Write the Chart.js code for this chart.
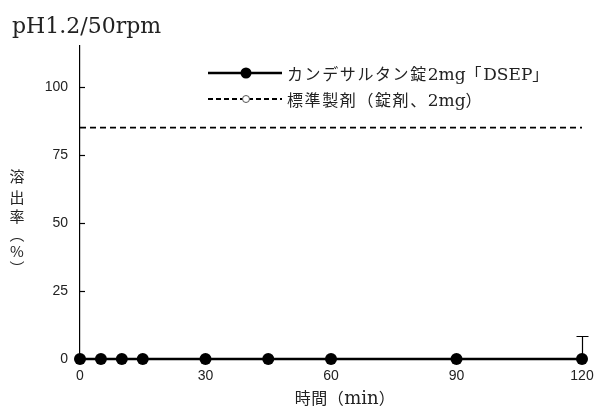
<!DOCTYPE html>
<html><head><meta charset="utf-8">
<script src="https://cdn.jsdelivr.net/npm/chart.js@4"></script>
<style>html,body{margin:0;padding:0;background:#fff}#wrap{width:598px;height:408px;position:relative}</style>
</head><body><div id="wrap"><canvas id="c" width="598" height="408"></canvas></div>
<script>
const timeMin = [0, 5, 10, 15, 30, 45, 60, 90, 120];
const testValues = [0, 0, 0, 0, 0, 0, 0, 0, 0];
const testSD = [0, 0, 0, 0, 0, 0, 0, 0, 8.5];
const refTimes = [0, 120];
const refValues = [85, 85];
const xTicks = [0, 30, 60, 90, 120];
const yTicks = [0, 25, 50, 75, 100];
const chartTitle = 'pH1.2/50rpm';
const seriesNames = ['カンデサルタン錠2mg「DSEP」', '標準製剤（錠剤、2mg）'];
const xTitle = '時間（min）';
const yTitleChars = ['溶', '出', '率', '︵', '%', '︶'];

const tickFont = {family: '"Liberation Sans", Arial, sans-serif', size: 14};
const CJK = '"Noto Sans CJK JP", sans-serif';
const LAT = '"DejaVu Serif", "Liberation Serif", serif';

function isCJK(ch) { return ch.codePointAt(0) > 0x2E7F; }
function mixedWidth(ctx, text, cs, ls, sp) {
  let w = 0;
  for (const ch of text) {
    if (isCJK(ch)) { ctx.font = cs + 'px ' + CJK; w += ctx.measureText(ch).width + sp; }
    else { ctx.font = ls + 'px ' + LAT; w += ctx.measureText(ch).width; }
  }
  return w;
}
function drawMixed(ctx, text, x, yMid, cs, ls, sp) {
  ctx.textAlign = 'left';
  ctx.textBaseline = 'alphabetic';
  for (const ch of text) {
    if (isCJK(ch)) {
      ctx.font = cs + 'px ' + CJK;
      ctx.fillText(ch, x, yMid + cs * 0.38);
      x += ctx.measureText(ch).width + sp;
    } else {
      ctx.font = ls + 'px ' + LAT;
      ctx.fillText(ch, x, yMid + ls * 0.36);
      x += ctx.measureText(ch).width;
    }
  }
}

const extras = {
  id: 'extras',
  beforeDatasetsDraw(chart) {
    const {ctx, scales: {x, y}} = chart;
    ctx.save();
    ctx.strokeStyle = '#000';
    ctx.lineWidth = 1.2;
    yTicks.forEach(v => {
      const py = Math.round(y.getPixelForValue(v)) + 0.5;
      ctx.beginPath(); ctx.moveTo(x.left, py); ctx.lineTo(x.left + 5, py); ctx.stroke();
    });
    timeMin.forEach((t, i) => {
      const sd = testSD[i];
      if (!sd) return;
      const px = Math.round(x.getPixelForValue(t)) + 0.5;
      const p0 = y.getPixelForValue(testValues[i]);
      const p1 = Math.round(y.getPixelForValue(testValues[i] + sd)) + 0.5;
      ctx.beginPath(); ctx.moveTo(px, p0); ctx.lineTo(px, p1);
      ctx.moveTo(px - 6, p1); ctx.lineTo(px + 6, p1); ctx.stroke();
    });
    ctx.restore();
  },
  afterDraw(chart) {
    const {ctx} = chart;
    ctx.save();
    ctx.fillStyle = '#222';
    ctx.font = '22px ' + LAT;
    ctx.textBaseline = 'alphabetic';
    ctx.textAlign = 'left';
    ctx.fillText(chartTitle, 12, 33);
    const rows = [
      {y: 73, dash: [], filled: true, text: seriesNames[0], lw: 2.5},
      {y: 99, dash: [5, 3], filled: false, text: seriesNames[1], lw: 1.8}
    ];
    rows.forEach(r => {
      ctx.save();
      ctx.strokeStyle = '#000';
      ctx.lineWidth = r.lw;
      ctx.setLineDash(r.dash);
      ctx.beginPath(); ctx.moveTo(208, r.y); ctx.lineTo(282, r.y); ctx.stroke();
      ctx.setLineDash([]);
      ctx.beginPath();
      ctx.arc(246, r.y, r.filled ? 5.5 : 3.5, 0, Math.PI * 2);
      if (r.filled) { ctx.fillStyle = '#000'; ctx.fill(); }
      else { ctx.fillStyle = '#fff'; ctx.fill(); ctx.lineWidth = 1; ctx.strokeStyle = '#555'; ctx.stroke(); }
      ctx.restore();
      ctx.fillStyle = '#222';
      drawMixed(ctx, r.text, 287, r.y + 1, 16, 17, 1.6);
    });
    const w = mixedWidth(ctx, xTitle, 16, 18, 0.5);
    drawMixed(ctx, xTitle, 345 - w / 2, 398, 16, 18, 0.5);
    ctx.font = '15px ' + CJK;
    ctx.textAlign = 'center';
    ctx.textBaseline = 'middle';
    const ys = [176, 197, 216, 234, 251, 268];
    yTitleChars.forEach((ch, i) => ctx.fillText(ch, 17, ys[i]));
    ctx.restore();
  }
};

new Chart(document.getElementById('c'), {
  type: 'line',
  data: {
    datasets: [
      {
        label: seriesNames[0],
        data: timeMin.map((t, i) => ({x: t, y: testValues[i]})),
        borderColor: '#000', backgroundColor: '#000', borderWidth: 2.5,
        pointRadius: 6, pointHoverRadius: 6, pointBackgroundColor: '#000', pointBorderWidth: 0,
        clip: false, order: 0
      },
      {
        label: seriesNames[1],
        data: refTimes.map((t, i) => ({x: t, y: refValues[i]})),
        borderColor: '#000', borderWidth: 1.8, borderDash: [6, 4],
        pointRadius: 0, clip: false, order: 1
      }
    ]
  },
  options: {
    responsive: false, animation: false, devicePixelRatio: 1,
    layout: {padding: {top: 46, right: 16, left: 0, bottom: 0}},
    plugins: {legend: {display: false}, tooltip: {enabled: false}, title: {display: false}},
    scales: {
      x: {
        type: 'linear', min: 0, max: 120,
        afterBuildTicks: s => { s.ticks = xTicks.map(v => ({value: v})); },
        afterFit: s => { s.height = 408 - 359; s.paddingLeft = 0; s.paddingRight = 0; },
        grid: {display: false, drawTicks: false},
        border: {display: true, color: '#000', width: 1},
        ticks: {font: tickFont, color: '#222', padding: 9, maxRotation: 0}
      },
      y: {
        type: 'linear', min: 0, max: 115,
        afterBuildTicks: s => { s.ticks = yTicks.map(v => ({value: v})); },
        afterFit: s => { s.width = 80; s.paddingTop = 0; s.paddingBottom = 0; },
        grid: {display: false, drawTicks: false},
        border: {display: true, color: '#000', width: 1.2},
        ticks: {font: tickFont, color: '#222', padding: 12}
      }
    }
  },
  plugins: [extras]
});
</script></body></html>
